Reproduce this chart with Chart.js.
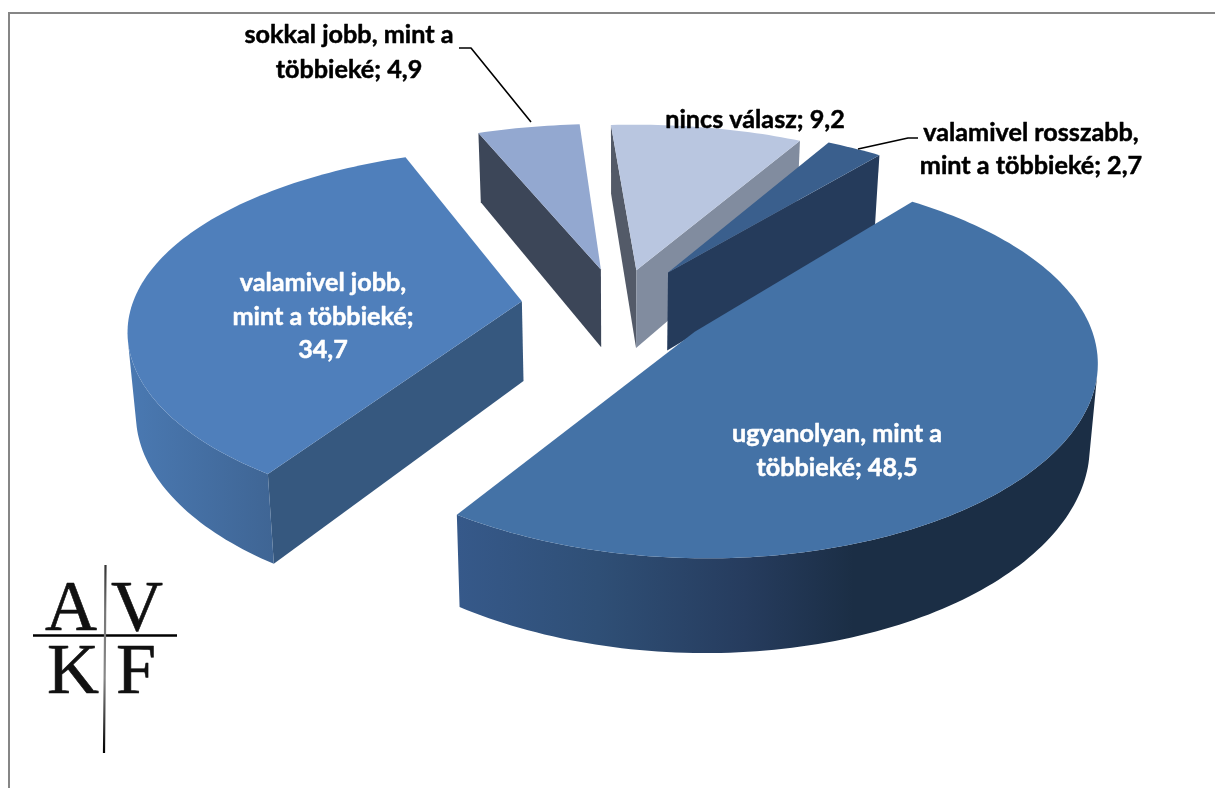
<!DOCTYPE html>
<html>
<head>
<meta charset="utf-8">
<style>
html,body{margin:0;padding:0;background:#fff;width:1215px;height:788px;overflow:hidden}
#wrap{position:absolute;left:0;top:0;width:1215px;height:788px}
</style>
<script src="https://cdn.jsdelivr.net/npm/chart.js@4"></script>
</head>
<body>
<div id="wrap"><canvas id="c" width="1215" height="788"></canvas></div>
<script>
const categories = ["nincs válasz","valamivel rosszabb, mint a többieké","ugyanolyan, mint a többieké","valamivel jobb, mint a többieké","sokkal jobb, mint a többieké"];
const values = [9.2,2.7,48.5,34.7,4.9];
const explode = [82,90,92,98,84];
const topColors = ["#b9c6e0","#3a5f8d","#4472a6","#4f7fbb","#93a8d0"];
const startFaceColors = ["#535a68","#2a4060","#2f4f78","#36587f","#3c4658"];
const endFaceColors = ["#818c9f","#253b5b","#2f4f78","#36587f","#3c4658"];
const wallStops = [
  [[0,"#818c9f"],[1,"#818c9f"]],
  [[0,"#253b5b"],[1,"#253b5b"]],
  [[0,"#36598a"],[0.22,"#2f4f76"],[0.45,"#263c5e"],[0.62,"#1b2e45"],[1,"#1b2e45"]],
  [[0,"#4a79b2"],[1,"#3f6594"]],
  [[0,"#3c4658"],[1,"#3c4658"]]
];
const labelLines = [
  ["nincs válasz; {v}"],
  ["valamivel rosszabb,","mint a többieké; {v}"],
  ["ugyanolyan, mint a","többieké; {v}"],
  ["valamivel jobb,","mint a többieké;","{v}"],
  ["sokkal jobb, mint a","többieké; {v}"]
];
const labelColors = ["#000","#000","#fff","#fff","#000"];
const labelCenters = [[755,120],[1031,133],[837,434],[323,283],[349,35]];
const labelLeading = [0,33,34,33.5,35];
const leaders = [[[459,48],[471,48],[531,122]],[[858,149],[908,138],[918,138]]];
const logoLetters = [["A",71,630],["V",137,630],["K",73,693],["F",136,693]];

const cam = {cx:619,cy:306,t:0.462,px:0.00035,py:0.00042,h:80,q:0.017};
function proj(X,Y,bottom){
  const sx = 1/(1-cam.px*Y), sy = 1/(1-cam.py*Y);
  const k = bottom ? 1-cam.q : 1;
  return [cam.cx + X*sx*k, cam.cy + cam.t*Y*sy + (bottom?cam.h*sx:0)];
}
function area(poly){let a=0;for(let i=0;i<poly.length;i++){const p=poly[i],q=poly[(i+1)%poly.length];a+=p[0]*q[1]-q[0]*p[1];}return a/2;}
function path(ctx,poly){ctx.beginPath();poly.forEach((p,i)=>i?ctx.lineTo(p[0],p[1]):ctx.moveTo(p[0],p[1]));ctx.closePath();}

const pie3d = {
  id:"pie3d",
  beforeDraw(chart){
    const ctx=chart.ctx;
    ctx.save();
    ctx.fillStyle="#fff";ctx.fillRect(0,0,1215,788);
    ctx.strokeStyle="#868686";ctx.lineWidth=2;
    ctx.beginPath();ctx.moveTo(9,788);ctx.lineTo(9,13);ctx.lineTo(1215,13);ctx.stroke();
    ctx.restore();
  },
  beforeDatasetDraw(chart,args){
    const ctx=chart.ctx, arcs=chart.getDatasetMeta(args.index).data;
    const order=arcs.map((a,i)=>i).sort((i,j)=>{
      const m=k=>Math.sin((arcs[k].startAngle+arcs[k].endAngle)/2);
      return m(i)-m(j);
    });
    ctx.save();
    ctx.lineJoin="round";
    for(const i of order){
      const a=arcs[i], mid=(a.startAngle+a.endAngle)/2, off=a.options.offset, R=a.outerRadius;
      const ox=Math.cos(mid)*off, oy=Math.sin(mid)*off;
      const pts=[[ox,oy]];
      const n=Math.max(4,Math.ceil((a.endAngle-a.startAngle)/0.02));
      for(let k=0;k<=n;k++){
        const ang=a.startAngle+(a.endAngle-a.startAngle)*k/n;
        pts.push([ox+Math.cos(ang)*R,oy+Math.sin(ang)*R]);
      }
      const topP=pts.map(p=>proj(p[0],p[1],false));
      const botP=pts.map(p=>proj(p[0],p[1],true));
      // radial faces
      const last=pts.length-1;
      const fs=[topP[0],topP[1],botP[1],botP[0]];
      const fe=[topP[last],topP[0],botP[0],botP[last]];
      if(area(fs)<0){ctx.fillStyle=startFaceColors[i];path(ctx,fs);ctx.fill();}
      if(area(fe)<0){ctx.fillStyle=endFaceColors[i];path(ctx,fe);ctx.fill();}
      // outer wall: one polygon per visible run
      let run=[];
      const flush=()=>{
        if(run.length<2){run=[];return;}
        const poly=run.map(k=>topP[k]).concat(run.slice().reverse().map(k=>botP[k]));
        const xs=poly.map(p=>p[0]);
        const g=ctx.createLinearGradient(Math.min(...xs),0,Math.max(...xs),0);
        wallStops[i].forEach(s=>g.addColorStop(s[0],s[1]));
        ctx.fillStyle=g;path(ctx,poly);ctx.fill();
        run=[];
      };
      for(let k=1;k<last;k++){
        const vis=area([topP[k],topP[k+1],botP[k+1],botP[k]])<0;
        if(vis){if(!run.length)run.push(k);run.push(k+1);}else flush();
      }
      flush();
      ctx.fillStyle=topColors[i];
      path(ctx,topP);ctx.fill();
    }
    ctx.restore();
    return false;
  },
  afterDatasetsDraw(chart){
    const ctx=chart.ctx;
    ctx.save();
    ctx.textAlign="center";ctx.textBaseline="middle";ctx.lineJoin="round";
    ctx.font='bold 25.2px Lato, "Open Sans", sans-serif';
    labelLines.forEach((lines,i)=>{
      ctx.fillStyle=labelColors[i];ctx.strokeStyle=labelColors[i];ctx.lineWidth=0.5;
      lines.forEach((ln,j)=>{
        const txt=ln.replace("{v}",String(values[i]).replace(".",","));
        ctx.fillText(txt,labelCenters[i][0],labelCenters[i][1]+j*labelLeading[i]);
        ctx.strokeText(txt,labelCenters[i][0],labelCenters[i][1]+j*labelLeading[i]);
      });
    });
    ctx.strokeStyle="#000";ctx.lineWidth=1.6;
    leaders.forEach(l=>{ctx.beginPath();l.forEach((p,k)=>k?ctx.lineTo(p[0],p[1]):ctx.moveTo(p[0],p[1]));ctx.stroke();});
    // logo
    ctx.fillStyle="#111";ctx.strokeStyle="#111";ctx.lineWidth=0.6;ctx.textBaseline="alphabetic";
    ctx.font='72px "Liberation Serif", serif';
    logoLetters.forEach(l=>{ctx.fillText(l[0],l[1],l[2]);ctx.strokeText(l[0],l[1],l[2]);});
    ctx.strokeStyle="#000";ctx.lineWidth=2.4;
    ctx.beginPath();ctx.moveTo(33,635.5);ctx.lineTo(177,635.5);ctx.stroke();
    const gv=ctx.createLinearGradient(0,565,0,753);
    gv.addColorStop(0,"#333");gv.addColorStop(0.25,"#777");gv.addColorStop(0.6,"#888");gv.addColorStop(1,"#000");
    ctx.strokeStyle=gv;ctx.lineWidth=2.2;
    ctx.beginPath();ctx.moveTo(105.5,565);ctx.lineTo(105,635);ctx.lineTo(104,753);ctx.stroke();
    ctx.restore();
  }
};

new Chart(document.getElementById("c"),{
  type:"pie",
  data:{labels:categories,datasets:[{data:values,backgroundColor:topColors,offset:explode,borderWidth:0}]},
  options:{
    responsive:false,animation:false,radius:390,rotation:-4,
    layout:{padding:0},
    plugins:{legend:{display:false},tooltip:{enabled:false},title:{display:false}}
  },
  plugins:[pie3d]
});
</script>
</body>
</html>
